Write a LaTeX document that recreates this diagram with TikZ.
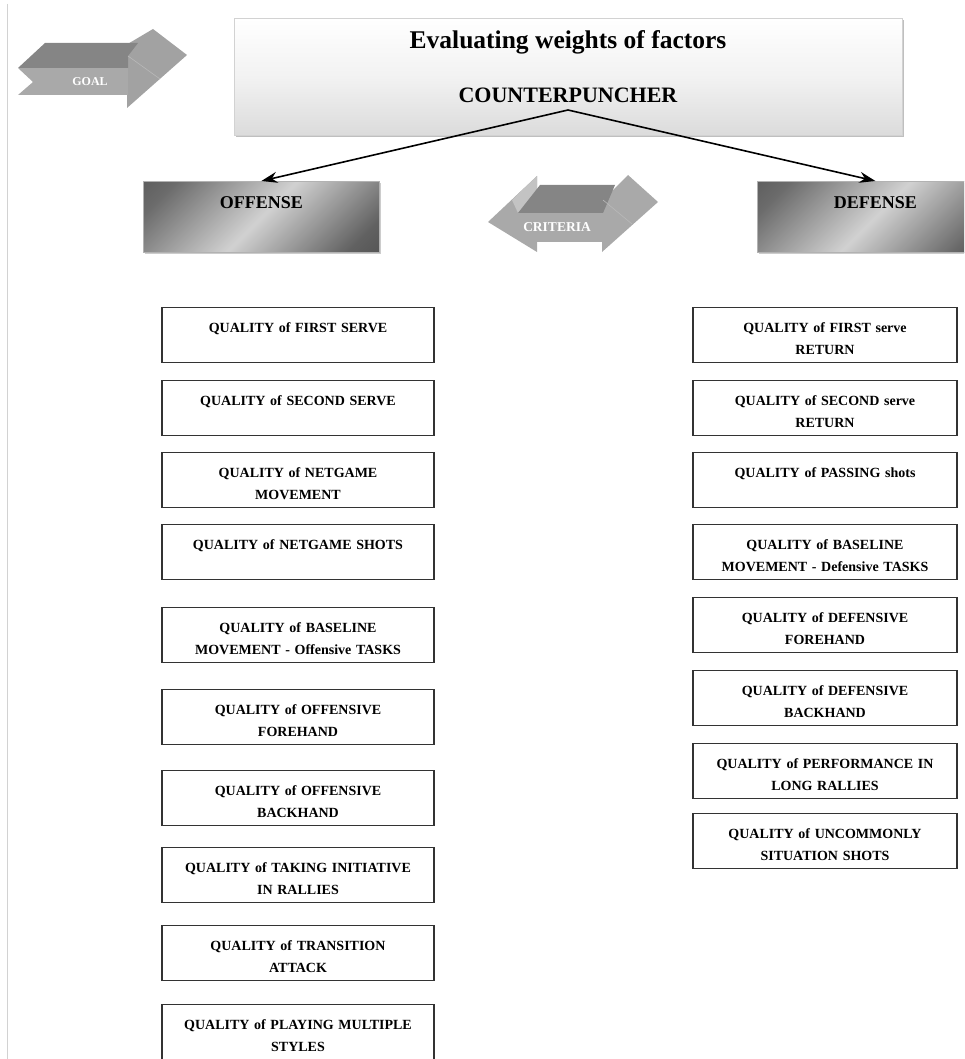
\documentclass[tikz,border=0pt]{standalone}
\usepackage{fontspec}
\setmainfont{Liberation Serif}
\usetikzlibrary{arrows.meta,shadows}

\definecolor{facetop}{HTML}{858585}
\definecolor{facefront}{HTML}{A9A9A9}
\definecolor{facehead}{HTML}{A2A2A2}
\definecolor{faceside}{HTML}{C3C3C3}

% metallic look of the criteria boxes
\pgfdeclarehorizontalshading{metal}{100bp}{color(0bp)=(black!75); color(22bp)=(black!62);
  color(50bp)=(black!18); color(78bp)=(black!58); color(100bp)=(black!72)}

\tikzset{
  factor/.style={draw=black!80, line width=1.1pt, minimum width=272pt, minimum height=55pt,
    text width=266pt, align=center, anchor=north, inner sep=0pt,
    text height=10pt, text depth=16pt, font=\fontsize{14}{22}\selectfont\bfseries},
  rfactor/.style={factor, minimum width=264pt, text width=260pt},
  sidebox/.style={draw=gray!60, line width=0.8pt, minimum width=236pt, minimum height=71pt,
    anchor=north west, inner sep=0pt, text height=12pt, text depth=29pt,
    shade, shading=metal, shading angle=135,
    drop shadow={shadow xshift=2pt, shadow yshift=-2pt, opacity=.4, fill=gray},
    font=\fontsize{18}{20}\selectfont\bfseries},
  arrowlabel/.style={text=white, inner sep=0pt, font=\bfseries},
  link/.style={line width=1.6pt, -{Stealth[length=16pt,width=11pt]}}
}

\begin{document}
\begin{tikzpicture}[x=1pt,y=-1pt]
  \useasboundingbox (0,0) rectangle (964,1059);
  \clip (0,0) rectangle (964,1059);

  % page edge
  \draw[gray!35, line width=0.8pt] (7,4) -- (7,1059);

  % goal arrow
  \fill[facehead] (126,45) -- (153,29) -- (187,55) -- (127,108) -- (127,95) -- cycle;
  \fill[facefront] (18,68) -- (128,68) -- (128,95) -- (18,95) -- (33,82) -- cycle;
  \fill[facetop] (18,68) -- (45,43) -- (138,43) -- (128,56) -- (128,68) -- cycle;
  \draw[gray!55, line width=0.6pt] (128,56) -- (160,79);
  \node[arrowlabel, font=\fontsize{12}{14}\selectfont\bfseries] (goal) at (90,82) {GOAL};

  % title box
  \node[draw=gray!35, line width=0.6pt, minimum width=668pt, minimum height=117pt,
        top color=white, bottom color=gray!28, middle color=white!90!gray,
        drop shadow={shadow xshift=2pt, shadow yshift=-2pt, opacity=.5, fill=gray}]
        (titlebox) at (568,76.5) {};
  \node[font=\fontsize{25.5}{28}\selectfont\bfseries] (title) at (568,42) {Evaluating weights of factors};
  \node[font=\fontsize{22}{24}\selectfont\bfseries] (counter) at (568,95) {COUNTERPUNCHER};
  \coordinate (apex) at (568,110);

  % criteria
  \node[sidebox] (offense) at (143,181) {OFFENSE};
  \node[sidebox] (defense) at (757,181) {DEFENSE};
  \draw[link] (apex) -- (offense.north);
  \draw[link] (apex) -- (defense.north);

  % double arrow
  \fill[facefront] (488,222) -- (537,176) -- (537,213) -- (603,213) -- (603,200) -- (628,175)
    -- (658,202) -- (602,252) -- (602,242) -- (537,242) -- (537,252) -- cycle;
  \fill[faceside] (512,200) -- (537,176) -- (537,213) -- (518,213) -- cycle;
  \fill[facetop] (518,213) -- (540,185) -- (615,185) -- (603,213) -- cycle;
  \draw[gray!55, line width=0.6pt] (603,200) -- (632,224);
  \node[arrowlabel, font=\fontsize{13.5}{15}\selectfont\bfseries] (criteria) at (557,227) {CRITERIA};

  % offense factors
  \node[factor] (o1) at (298,307) {QUALITY of FIRST SERVE};
  \node[factor] (o2) at (298,380) {QUALITY of SECOND SERVE};
  \node[factor] (o3) at (298,452) {QUALITY of NETGAME\\MOVEMENT};
  \node[factor] (o4) at (298,524) {QUALITY of NETGAME SHOTS};
  \node[factor] (o5) at (298,607) {QUALITY of BASELINE\\MOVEMENT - Offensive TASKS};
  \node[factor] (o6) at (298,689) {QUALITY of OFFENSIVE\\FOREHAND};
  \node[factor] (o7) at (298,770) {QUALITY of OFFENSIVE\\BACKHAND};
  \node[factor] (o8) at (298,847) {QUALITY of TAKING INITIATIVE\\IN RALLIES};
  \node[factor] (o9) at (298,925) {QUALITY of TRANSITION\\ATTACK};
  \node[factor] (o10) at (298,1004) {QUALITY of PLAYING MULTIPLE\\STYLES};

  % defense factors
  \node[rfactor] (d1) at (825,307) {QUALITY of FIRST serve\\RETURN};
  \node[rfactor] (d2) at (825,380) {QUALITY of SECOND serve\\RETURN};
  \node[rfactor] (d3) at (825,452) {QUALITY of PASSING shots};
  \node[rfactor] (d4) at (825,524) {QUALITY of BASELINE\\MOVEMENT - Defensive TASKS};
  \node[rfactor] (d5) at (825,597) {QUALITY of DEFENSIVE\\FOREHAND};
  \node[rfactor] (d6) at (825,670) {QUALITY of DEFENSIVE\\BACKHAND};
  \node[rfactor] (d7) at (825,743) {QUALITY of PERFORMANCE IN\\LONG RALLIES};
  \node[rfactor] (d8) at (825,813) {QUALITY of UNCOMMONLY\\SITUATION SHOTS};
\end{tikzpicture}
\end{document}
